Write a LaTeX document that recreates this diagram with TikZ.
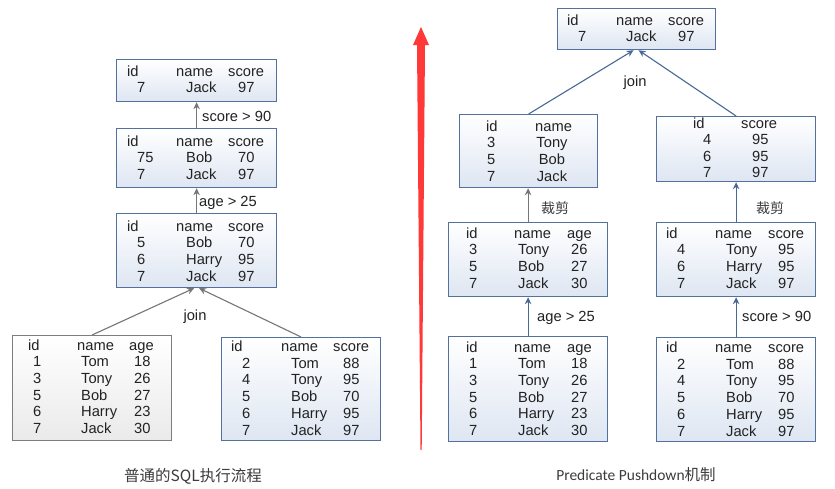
\documentclass[tikz,border=0pt]{standalone}
\usepackage{fontspec}
\setmainfont{Liberation Sans}
\newfontfamily\cjkfont{Noto Sans CJK SC}
\newfontfamily\calfont{Carlito}
\usetikzlibrary{arrows.meta}
\definecolor{bordblue}{RGB}{84,112,158}
\definecolor{fillblue}{RGB}{222,230,242}
\definecolor{bordgray}{RGB}{125,125,125}
\definecolor{fillgray}{RGB}{234,234,234}
\definecolor{arrgray}{RGB}{118,118,118}
\definecolor{arrblue}{RGB}{72,104,150}
\definecolor{txt}{RGB}{34,34,34}
\definecolor{captxt}{RGB}{60,60,60}
\definecolor{redarrow}{RGB}{255,56,56}
\tikzset{
  bluebox/.style={draw=bordblue, line width=1.2pt, top color=white, bottom color=fillblue, anchor=north west, inner sep=0pt},
  graybox/.style={draw=bordgray, line width=1.2pt, top color=white, bottom color=fillgray, anchor=north west, inner sep=0pt},
  cell/.style={anchor=base west, inner sep=0pt, text=txt, font=\fontsize{14.7}{16}\selectfont},
  cellc/.style={cell, anchor=base},
  lbl/.style={anchor=base west, inner sep=0pt, text=txt, font=\fontsize{14.7}{16}\selectfont},
  cjklbl/.style={anchor=base, inner sep=0pt, text=captxt, font=\fontsize{14}{16}\cjkfont},
  grayarrow/.style={draw=arrgray, line width=1.1pt, -{Stealth[length=7pt,width=6.5pt]}},
  bluearrow/.style={draw=arrblue, line width=1.1pt, -{Stealth[length=7pt,width=6.5pt]}},
}
\newcommand\hrow[8]{%
  \node[cell] (#1-1) at (#3,#2) {#4};
  \node[cell] (#1-2) at (#5,#2) {#6};
  \node[cell] (#1-3) at (#7,#2) {#8};}
\newcommand\tdata[6]{%
  \foreach \a/\b/\c [count=\i] in {#6} {
    \node[cell] (#1-r\i-1) at (#3,{#2+\i*16.7}) {\a};
    \node[cell] (#1-r\i-2) at (#4,{#2+\i*16.7}) {\b};
    \node[cell] (#1-r\i-3) at (#5,{#2+\i*16.7}) {\c};
  }}
\begin{document}
\begin{tikzpicture}[x=1pt,y=-1pt]
\useasboundingbox[fill=white] (0,0) rectangle (835,488);

% ---------- red arrow ----------
\fill[redarrow] (421,27) -- (429,45) -- (425,45) -- (421.7,450) -- (420.5,450) -- (417,45) -- (413,45) -- cycle;

% ---------- left side ----------
\node[bluebox, minimum width=160pt, minimum height=42pt] (L1) at (116,59) {};
\node[bluebox, minimum width=160pt, minimum height=59pt] (L2) at (116,128) {};
\node[bluebox, minimum width=160pt, minimum height=74pt] (L3) at (116,213) {};
\node[graybox, minimum width=159pt, minimum height=105pt] (L4) at (12,335) {};
\node[bluebox, minimum width=159pt, minimum height=103pt] (L5) at (221,337) {};

\hrow{L1h}{76}{127}{id}{176}{name}{228}{score}
\tdata{L1}{76}{137}{186}{238}{7/Jack/97}
\hrow{L2h}{146}{127}{id}{176}{name}{228}{score}
\tdata{L2}{146}{137}{186}{238}{75/Bob/70,7/Jack/97}
\hrow{L3h}{231}{127}{id}{176}{name}{228}{score}
\tdata{L3}{231}{137}{186}{238}{5/Bob/70,6/Harry/95,7/Jack/97}
\hrow{L4h}{350}{28}{id}{77}{name}{129}{age}
\tdata{L4}{350}{33}{81}{134}{1/Tom/18,3/Tony/26,5/Bob/27,6/Harry/23,7/Jack/30}
\hrow{L5h}{351.5}{231}{id}{281}{name}{333}{score}
\tdata{L5}{351.5}{242}{291}{343}{2/Tom/88,4/Tony/95,5/Bob/70,6/Harry/95,7/Jack/97}

\draw[grayarrow] (L2.north) -- (L1.south);
\draw[grayarrow] (L3.north) -- (L2.south);
\draw[grayarrow] (L4.north) -- ([xshift=-2.5pt]L3.south);
\draw[grayarrow] (L5.north) -- ([xshift=2.5pt]L3.south);

\node[lbl] (lf1) at (202,121) {score > 90};
\node[lbl] (lf2) at (199,206) {age > 25};
\node[lbl, anchor=base] (ljoin) at (195,320) {join};
\node[cjklbl, font=\fontsize{15.5}{17}\cjkfont] (lcap) at (193,481) {普通的SQL执行流程};

% ---------- right side ----------
\node[bluebox, minimum width=158pt, minimum height=41pt] (R1) at (557,8) {};
\node[bluebox, minimum width=138pt, minimum height=73pt] (R2) at (459,114) {};
\node[bluebox, minimum width=159pt, minimum height=65pt] (R3) at (656,116) {};
\node[bluebox, minimum width=159pt, minimum height=74pt] (R4) at (448,222) {};
\node[bluebox, minimum width=159pt, minimum height=105pt] (R5) at (448,336) {};
\node[bluebox, minimum width=159pt, minimum height=74pt] (R6) at (656,222) {};
\node[bluebox, minimum width=159pt, minimum height=104pt] (R7) at (656,337) {};

\hrow{R1h}{25}{567}{id}{616}{name}{668}{score}
\tdata{R1}{25}{578}{626}{678}{7/Jack/97}

\node[cell] (R2h-1) at (486,131) {id};
\node[cell] (R2h-2) at (535,131) {name};
\foreach \a/\b [count=\i] in {3/Tony,5/Bob,7/Jack} {
  \node[cell] (R2-r\i-1) at (487,{131+\i*16.7}) {\a};
  \node[cellc] (R2-r\i-2) at (552,{131+\i*16.7}) {\b};
}

\node[cell] (R3h-1) at (693,128) {id};
\node[cell] (R3h-2) at (741,128) {score};
\foreach \a/\b [count=\i] in {4/95,6/95,7/97} {
  \node[cell] (R3-r\i-1) at (703,{128+\i*16.5}) {\a};
  \node[cell] (R3-r\i-2) at (752,{128+\i*16.5}) {\b};
}

\hrow{R4h}{238}{466}{id}{514}{name}{567}{age}
\tdata{R4}{238}{469}{518}{571}{3/Tony/26,5/Bob/27,7/Jack/30}
\hrow{R5h}{352}{466}{id}{514}{name}{567}{age}
\tdata{R5}{352}{469}{518}{571}{1/Tom/18,3/Tony/26,5/Bob/27,6/Harry/23,7/Jack/30}
\hrow{R6h}{238}{666}{id}{715}{name}{768}{score}
\tdata{R6}{238}{677}{726}{778}{4/Tony/95,6/Harry/95,7/Jack/97}
\hrow{R7h}{352.5}{666}{id}{715}{name}{768}{score}
\tdata{R7}{352.5}{677}{726}{778}{2/Tom/88,4/Tony/95,5/Bob/70,6/Harry/95,7/Jack/97}

\draw[bluearrow] (R2.north) -- ([xshift=-3pt]R1.south);
\draw[bluearrow] (R3.north) -- ([xshift=2pt]R1.south);
\draw[grayarrow] (R4.north) -- (R4.north |- R2.south);
\draw[bluearrow] (R6.north) -- (R3.south);
\draw[bluearrow] (R5.north) -- (R4.south);
\draw[bluearrow] (R7.north) -- (R6.south);

\node[lbl, anchor=base] (rjoin) at (635,86) {join};
\node[cjklbl] (rcut1) at (555,213) {裁剪};
\node[cjklbl] (rcut2) at (770,213) {裁剪};
\node[lbl] (rf1) at (537,321) {age > 25};
\node[lbl] (rf2) at (742,321) {score > 90};
\node[anchor=base, inner sep=0pt, text=captxt, font=\fontsize{15.5}{17}\calfont] (rcap) at (636,480) {Predicate Pushdown{\cjkfont 机制}};
\end{tikzpicture}
\end{document}
